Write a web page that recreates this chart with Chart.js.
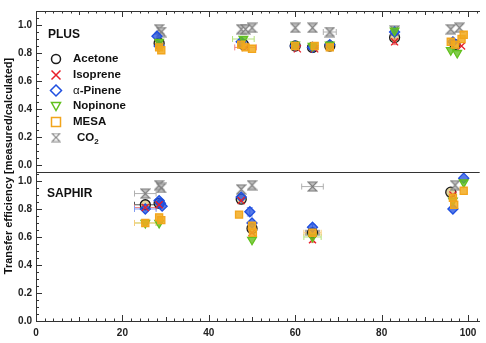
<!DOCTYPE html>
<html>
<head>
<meta charset="utf-8">
<script src="https://cdn.jsdelivr.net/npm/chart.js@4.4.0/dist/chart.umd.min.js"></script>
<style>
  html, body { margin: 0; padding: 0; background: #fff; }
  #wrap { width: 486px; height: 343px; }
</style>
</head>
<body>
<div id="wrap"><canvas id="chart" width="486" height="343"></canvas></div>
<script>
// points are [x, y, xErr, yErr]
const acetonePLUS   = [[28.5,0.87],[48,0.86],[60,0.85],[64,0.84],[68,0.85],[83,0.91,0,0.02],[97,0.86]];
const isoprenePLUS  = [[28.5,0.86],[48.5,0.84,2.5,0],[60.5,0.83],[64.5,0.83],[83,0.88,0,0.02],[98.5,0.85]];
const pinenePLUS    = [[28,0.92],[28.5,0.85],[47.5,0.88],[60,0.85],[64,0.84],[68,0.86],[83,0.95],[96.5,0.88]];
const nopinonePLUS  = [[28.5,0.88],[48,0.9,2.5,0],[60,0.86],[64,0.85],[68,0.86],[83,0.96],[96,0.82],[97.5,0.8]];
const mesaPLUS      = [[28.5,0.84],[29,0.82],[47.5,0.86],[48.5,0.84],[50,0.83],[60,0.85],[64.5,0.85],[68,0.84],[96,0.88],[97,0.86],[98.5,0.9],[99,0.93]];
const co2PLUS       = [[28.5,0.97],[29,0.95],[47.5,0.97],[48.5,0.97],[50,0.98],[60,0.98],[64,0.98],[68,0.95,1.5,0],[83,0.96],[96,0.97],[98,0.98]];

const acetoneSAPHIR  = [[25.3,0.83,2.5,0],[28.5,0.84],[47.5,0.87],[50,0.66],[64,0.63,1.5,0],[96,0.92]];
const isopreneSAPHIR = [[25.3,0.81,2.5,0],[28.5,0.83],[47.5,0.86],[50,0.63],[64,0.58,0,0.02],[96.5,0.9]];
const pineneSAPHIR   = [[25.3,0.8,2.5,0],[28.5,0.86],[28.8,0.84],[29.2,0.82],[47.5,0.885],[49.5,0.78,0,0.03],[50,0.7],[64,0.67,0,0.02],[96.5,0.8],[99,1.02]];
const nopinoneSAPHIR = [[25.3,0.7,2.5,0],[28.5,0.7],[50,0.58],[64,0.6,2,0],[96.5,0.86],[99,0.99]];
const mesaSAPHIR     = [[25.3,0.7,2.5,0],[28.5,0.74],[29,0.72],[47,0.76],[50,0.68],[50.2,0.63],[64,0.63,2,0.02],[96.5,0.88],[96.8,0.83],[99,0.93]];
const co2SAPHIR      = [[25.3,0.91,2.5,0],[28.5,0.97],[29,0.95],[47.5,0.94],[50,0.97],[64,0.96,2.5,0],[97,0.97]];

const compounds = ['Acetone', 'Isoprene', 'α-Pinene', 'Nopinone', 'MESA', 'CO2'];
const plusData = [acetonePLUS, isoprenePLUS, pinenePLUS, nopinonePLUS, mesaPLUS, co2PLUS];
const saphirData = [acetoneSAPHIR, isopreneSAPHIR, pineneSAPHIR, nopinoneSAPHIR, mesaSAPHIR, co2SAPHIR];
const panelNames = ['PLUS', 'SAPHIR'];

const FONT = 'Liberation Sans, Arial, Helvetica, sans-serif';

function hourglass(color, fill, size) {
    const c = document.createElement('canvas');
    c.width = size; c.height = size;
    const g = c.getContext('2d');
    g.strokeStyle = color;
    g.fillStyle = fill;
    g.lineWidth = 1.2;
    g.beginPath();
    g.moveTo(1, 1); g.lineTo(size - 1, 1);
    g.lineTo(1, size - 1); g.lineTo(size - 1, size - 1);
    g.closePath();
    g.fill();
    g.stroke();
    return c;
}

// order: higher is drawn further back
const styles = [
    {color: '#1b1b1b', fill: 'rgba(200,170,60,0.5)', err: '#555', point: 'circle', rot: 0, order: 7},
    {color: '#e8202a', fill: '#e8202a', err: '#f08080', point: 'crossRot', rot: 0, order: 3},
    {color: '#1f4fe0', fill: 'rgba(31,79,224,0.75)', err: '#7f9af0', point: 'rectRot', rot: 0, order: 5},
    {color: '#62c01e', fill: 'rgba(98,192,30,0.8)', err: '#b3e07a', point: 'triangle', rot: 180, order: 2},
    {color: '#f2a51c', fill: 'rgba(242,170,30,0.85)', err: '#f7cc7a', point: 'rect', rot: 0, order: 1},
    {color: '#8a8a8a', fill: '#bdbdbd', err: '#b0b0b0', point: null, rot: 0, order: 6}
];
styles[5].point = hourglass('#7a7a7a', 'rgba(185,185,185,0.9)', 11);
const legendHourglass = hourglass('#8a8a8a', 'rgba(255,255,255,0)', 10);

function makeSet(label, pts, axis, st) {
    return {
        label: label,
        yAxisID: axis,
        order: st.order,
        data: pts.map(p => ({x: p[0], y: p[1], xe: p[2] || 0, ye: p[3] || 0})),
        pointStyle: st.point,
        rotation: st.rot,
        pointRadius: 5,
        pointHoverRadius: 5,
        borderColor: st.color,
        backgroundColor: st.fill,
        borderWidth: 1.3,
        errColor: st.err
    };
}

const datasets = [];
[plusData, saphirData].forEach((panel, i) => {
    panel.forEach((pts, k) => {
        datasets.push(makeSet(compounds[k] + ' ' + panelNames[i], pts, i === 0 ? 'yTop' : 'yBot', styles[k]));
    });
});

function line(ctx, x1, y1, x2, y2) {
    ctx.beginPath();
    ctx.moveTo(x1, y1);
    ctx.lineTo(x2, y2);
    ctx.stroke();
}

const errorBars = {
    id: 'errorBars',
    beforeDatasetsDraw(chart) {
        const ctx = chart.ctx;
        const x = chart.scales.x;
        ctx.save();
        ctx.lineWidth = 1;
        chart.data.datasets.forEach(ds => {
            const y = chart.scales[ds.yAxisID];
            ctx.strokeStyle = ds.errColor;
            ds.data.forEach(p => {
                const px = x.getPixelForValue(p.x), py = y.getPixelForValue(p.y);
                if (p.xe) {
                    const a = x.getPixelForValue(p.x - p.xe), b = x.getPixelForValue(p.x + p.xe);
                    line(ctx, a, py, b, py);
                    line(ctx, a, py - 3, a, py + 3);
                    line(ctx, b, py - 3, b, py + 3);
                }
                if (p.ye) {
                    const a = y.getPixelForValue(p.y - p.ye), b = y.getPixelForValue(p.y + p.ye);
                    line(ctx, px, a, px, b);
                    line(ctx, px - 3, a, px + 3, a);
                    line(ctx, px - 3, b, px + 3, b);
                }
            });
        });
        ctx.restore();
    }
};

function legendMarker(ctx, k, x, y) {
    const st = styles[k];
    ctx.save();
    ctx.strokeStyle = st.color;
    ctx.lineWidth = 1.5;
    const r = 4.5;
    ctx.beginPath();
    if (k === 0) {
        ctx.arc(x, y, r, 0, Math.PI * 2);
    } else if (k === 1) {
        ctx.moveTo(x - r, y - r); ctx.lineTo(x + r, y + r);
        ctx.moveTo(x + r, y - r); ctx.lineTo(x - r, y + r);
    } else if (k === 2) {
        ctx.moveTo(x, y - r - 1); ctx.lineTo(x + r + 1, y); ctx.lineTo(x, y + r + 1); ctx.lineTo(x - r - 1, y); ctx.closePath();
    } else if (k === 3) {
        ctx.moveTo(x - r, y - r + 1); ctx.lineTo(x + r, y - r + 1); ctx.lineTo(x, y + r); ctx.closePath();
    } else if (k === 4) {
        ctx.rect(x - r, y - r, 2 * r, 2 * r);
    }
    ctx.stroke();
    if (k === 5) ctx.drawImage(legendHourglass, x - 5, y - 5);
    ctx.restore();
}

const decorations = {
    id: 'decorations',
    afterDraw(chart) {
        const {ctx, chartArea: a, scales} = chart;
        ctx.save();
        ctx.strokeStyle = '#333';
        ctx.lineWidth = 1;
        // panel divider
        const ySep = Math.round(scales.yBot.top) + 0.5;
        line(ctx, a.left, ySep, a.right, ySep);
        // inward ticks on the x spines
        for (let v = 0; v <= scales.x.max; v += 2) {
            const px = Math.round(scales.x.getPixelForValue(v)) + 0.5;
            const len = v % 20 === 0 ? 6 : (v % 10 === 0 ? 4 : 2.5);
            line(ctx, px, a.bottom, px, a.bottom - len);
            line(ctx, px, a.top, px, a.top + len);
        }
        // inward ticks on the y spine of each panel
        ['yTop', 'yBot'].forEach(id => {
            const s = scales[id];
            for (let k = 0; k * 0.05 <= s.max + 1e-9; k++) {
                const py = Math.round(s.getPixelForValue(k * 0.05)) + 0.5;
                const len = k % 4 === 0 ? 6 : 3;
                line(ctx, a.left, py, a.left + len, py);
            }
        });

        ctx.fillStyle = '#111';
        ctx.textBaseline = 'middle';
        ctx.textAlign = 'left';
        // panel names
        ctx.font = 'bold 12px ' + FONT;
        ctx.fillText(panelNames[0], a.left + 12, scales.yTop.getPixelForValue(0.93));
        ctx.fillText(panelNames[1], a.left + 11, scales.yBot.getPixelForValue(0.91));

        // legend
        const rowY = [59, 75, 90.5, 106, 122, 137.5];
        compounds.forEach((name, k) => {
            legendMarker(ctx, k, a.left + 20, rowY[k]);
            ctx.fillStyle = '#111';
            if (k === 2) {
                ctx.font = '11.5px ' + FONT;
                ctx.fillText('α', a.left + 37, rowY[k]);
                const w = ctx.measureText('α').width;
                ctx.font = 'bold 11.5px ' + FONT;
                ctx.fillText('-Pinene', a.left + 37 + w, rowY[k]);
            } else if (k === 5) {
                ctx.font = 'bold 11.5px ' + FONT;
                ctx.fillText('CO', a.left + 41, rowY[k]);
                const w = ctx.measureText('CO').width;
                ctx.font = 'bold 8px ' + FONT;
                ctx.fillText('2', a.left + 41 + w, rowY[k] + 4);
            } else {
                ctx.font = 'bold 11.5px ' + FONT;
                ctx.fillText(name, a.left + 37, rowY[k]);
            }
        });

        // shared y title
        ctx.translate(9, (a.top + a.bottom) / 2);
        ctx.rotate(-Math.PI / 2);
        ctx.textAlign = 'center';
        ctx.font = 'bold 11px ' + FONT;
        ctx.fillText('Transfer efficiency [measured/calculated]', 0, 0);
        ctx.restore();
    }
};

const tickFont = {family: FONT, size: 10, weight: 'bold'};

const yAxis = (min, max, weight) => ({
    type: 'linear',
    position: 'left',
    stack: 'panels',
    stackWeight: weight,
    min: min,
    max: max,
    grid: {display: false, drawTicks: false},
    border: {display: true, color: '#333', width: 1},
    ticks: {
        stepSize: 0.2,
        includeBounds: false,
        padding: 4,
        color: '#222',
        font: tickFont,
        callback: v => Number(v).toFixed(1)
    },
    afterFit: s => { s.width = 22; }
});

new Chart(document.getElementById('chart'), {
    type: 'scatter',
    data: {datasets},
    options: {
        responsive: false,
        animation: false,
        devicePixelRatio: 1,
        layout: {padding: {left: 14, top: 11, right: 0, bottom: 0}},
        plugins: {legend: {display: false}, tooltip: {enabled: false}},
        scales: {
            x: {
                type: 'linear',
                position: 'bottom',
                min: 0,
                max: 102.7,
                grid: {display: false, drawTicks: false},
                border: {display: true, color: '#333', width: 1},
                ticks: {stepSize: 20, includeBounds: false, padding: 6, color: '#222', font: tickFont, maxRotation: 0},
                afterFit: s => { s.height = 22; s.paddingLeft = 0; s.paddingRight = 0; }
            },
            xTop: {
                type: 'linear',
                position: 'top',
                min: 0,
                max: 102.7,
                grid: {display: false, drawTicks: false},
                border: {display: true, color: '#333', width: 1},
                ticks: {display: false},
                afterFit: s => { s.height = 0; s.paddingLeft = 0; s.paddingRight = 0; }
            },
            yBot: yAxis(0, 1.064, 149),
            yTop: yAxis(-0.05, 1.1, 161)
        }
    },
    plugins: [errorBars, decorations]
});
</script>
</body>
</html>
